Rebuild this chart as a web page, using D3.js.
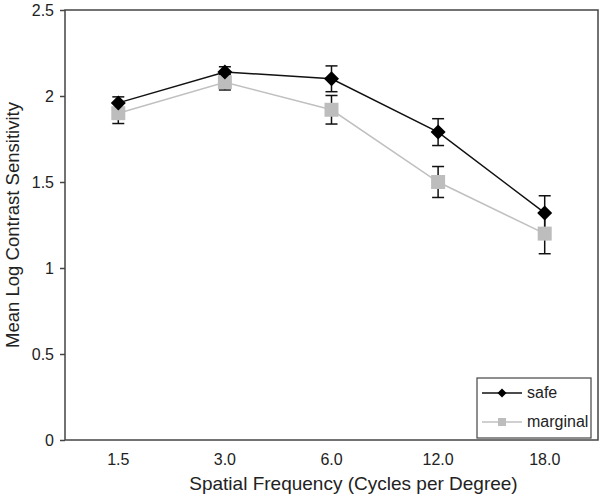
<!DOCTYPE html>
<html><head><meta charset="utf-8">
<script src="https://cdn.jsdelivr.net/npm/d3@7"></script>
<style>body{margin:0;background:#fff}svg{display:block}text{font-family:"Liberation Sans",Arial,sans-serif;fill:#222}</style>
</head><body><svg width="600" height="500"></svg>
<script>
const categories = ["1.5","3.0","6.0","12.0","18.0"];
const safeValues = [1.96, 2.14, 2.10, 1.79, 1.32];
const safeErrors = [0.035, 0.03, 0.075, 0.078, 0.10];
const marginalValues = [1.90, 2.08, 1.92, 1.50, 1.20];
const marginalErrors = [0.06, 0.045, 0.083, 0.09, 0.117];
const yTicks = [0, 0.5, 1, 1.5, 2, 2.5];
const yTickLabels = ["0","0.5","1","1.5","2","2.5"];
const seriesNames = ["safe","marginal"];

const svg = d3.select("svg");
const L = 65, R = 598, T = 10, B = 440;
const x = d3.scaleBand().domain(categories).range([L, R]);
const y = d3.scaleLinear().domain([0, 2.5]).range([B, T]);

// frame
svg.append("rect").attr("x", L).attr("y", T).attr("width", R - L).attr("height", B - T)
  .attr("fill", "none").attr("stroke", "#444").attr("stroke-width", 1.5);

// y axis
const ya = svg.append("g").attr("transform", `translate(${L},0)`)
  .call(d3.axisLeft(y).tickValues(yTicks).tickFormat((d, i) => yTickLabels[i]).tickSize(5).tickPadding(6));
ya.select(".domain").remove();
ya.selectAll("line").attr("stroke", "#444").attr("stroke-width", 1.5);
ya.selectAll("text").attr("font-size", 16).style("fill", "#222");

// x axis
const xa = svg.append("g").attr("transform", `translate(0,${B})`)
  .call(d3.axisBottom(x).tickSize(0).tickPadding(14));
xa.select(".domain").remove();
xa.selectAll("text").attr("font-size", 16).style("fill", "#222");

// titles
svg.append("text").attr("x", (L + R) / 2 + 22).attr("y", 490).attr("text-anchor", "middle")
  .attr("font-size", 19).text("Spatial Frequency (Cycles per Degree)");
svg.append("text").attr("transform", `translate(19,${(T + B) / 2}) rotate(-90)`).attr("text-anchor", "middle")
  .attr("font-size", 18.5).text("Mean Log Contrast Sensitivity");

const cx = c => x(c) + x.bandwidth() / 2;
const line = d3.line().x(d => cx(d.c)).y(d => y(d.v));
const mk = (vals, errs) => categories.map((c, i) => ({c, v: vals[i], e: errs[i]}));
const series = [
  {name: seriesNames[0], data: mk(safeValues, safeErrors), color: "#111", type: "diamond"},
  {name: seriesNames[1], data: mk(marginalValues, marginalErrors), color: "#c0c0c0", type: "square"}
];

// lines
[series[1], series[0]].forEach(s => {
  svg.append("path").datum(s.data).attr("d", line).attr("fill", "none")
    .attr("stroke", s.color).attr("stroke-width", 1.5);
});

function drawMarker(g, type, px, py, size) {
  if (type === "diamond") {
    const h = size / 2;
    g.append("path").attr("d", `M${px},${py - h}L${px + h},${py}L${px},${py + h}L${px - h},${py}Z`).attr("fill", "#000");
  } else {
    g.append("rect").attr("x", px - size / 2).attr("y", py - size / 2).attr("width", size).attr("height", size).attr("fill", "#bdbdbd");
  }
}

// error bars
const eg = svg.append("g");
[series[1], series[0]].forEach(s => {
  s.data.forEach(d => {
    const px = cx(d.c);
    eg.append("line").attr("x1", px).attr("x2", px).attr("y1", y(d.v + d.e)).attr("y2", y(d.v - d.e)).attr("stroke", "#111").attr("stroke-width", 1.5);
    [d.v + d.e, d.v - d.e].forEach(v => eg.append("line").attr("x1", px - 6).attr("x2", px + 6).attr("y1", y(v)).attr("y2", y(v)).attr("stroke", "#111").attr("stroke-width", 1.5));
  });
});
[series[1], series[0]].forEach(s => {
  s.data.forEach(d => drawMarker(svg, s.type, cx(d.c), y(d.v), s.type === "diamond" ? 15 : 14));
});

// legend
const lg = svg.append("g");
lg.append("rect").attr("x", 477).attr("y", 378).attr("width", 114).attr("height", 60).attr("fill", "#fff").attr("stroke", "#444").attr("stroke-width", 1.2);
series.forEach((s, i) => {
  const ly = 393 + i * 29;
  lg.append("line").attr("x1", 482).attr("x2", 522).attr("y1", ly).attr("y2", ly).attr("stroke", s.color).attr("stroke-width", 1.5);
  drawMarker(lg, s.type, 502, ly, s.type === "diamond" ? 9 : 8);
  lg.append("text").attr("x", 527).attr("y", ly + 5).attr("font-size", 16).text(s.name);
});
</script></body></html>
